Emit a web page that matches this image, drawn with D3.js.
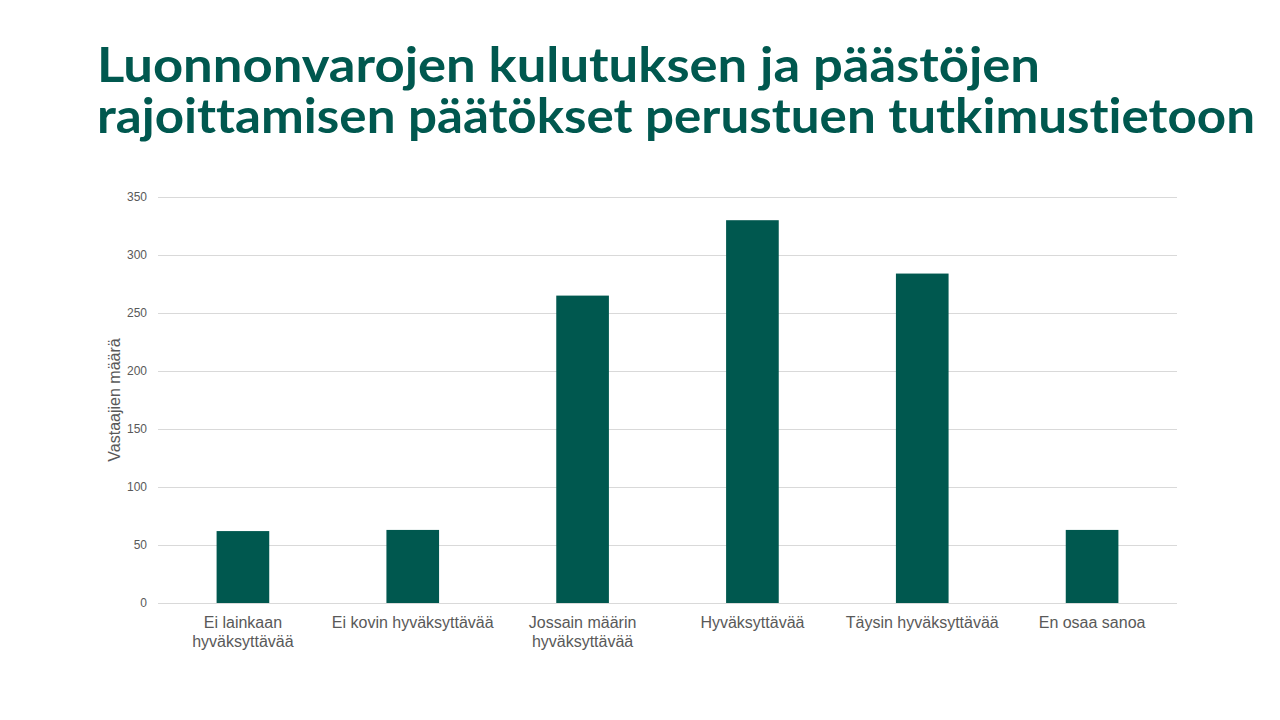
<!DOCTYPE html>
<html lang="fi">

<head>
    <meta charset="UTF-8">
    <title>Luonnonvarojen kulutuksen ja päästöjen rajoittaminen</title>
    <style>
        * {
            margin: 0;
            padding: 0;
        }

        html,
        body {
            overflow: hidden;
            background: #fff;
        }
    </style>
</head>

<body>
    <div id="chart"></div>
    <script src="https://cdn.jsdelivr.net/npm/d3@7"></script>
    <script>
        const titleLines = [
            'Luonnonvarojen kulutuksen ja päästöjen',
            'rajoittamisen päätökset perustuen tutkimustietoon'
        ]
        const categories = [
            ['Ei lainkaan', 'hyväksyttävää'],
            ['Ei kovin hyväksyttävää'],
            ['Jossain määrin', 'hyväksyttävää'],
            ['Hyväksyttävää'],
            ['Täysin hyväksyttävää'],
            ['En osaa sanoa']
        ]
        const values = [62, 63, 265, 330, 284, 63]
        const yTicks = [0, 50, 100, 150, 200, 250, 300, 350]
        const yLabel = 'Vastaajien määrä'

        function drawChart() {
            const width = 1280
            const height = 720
            const svg = d3.select('#chart')
                .append('svg')
                .attr('width', width)
                .attr('height', height)
                .style('background', '#fff')

            const green = '#00584F'
            const grey = '#595959'

            // otsikko
            const titleWidths = [943, 1158]
            svg.selectAll('text.title')
                .data(titleLines)
                .join('text')
                .attr('class', 'title')
                .attr('x', 97)
                .attr('y', (d, i) => 82 + i * 51)
                .attr('textLength', (d, i) => titleWidths[i])
                .attr('lengthAdjust', 'spacingAndGlyphs')
                .attr('fill', green)
                .style('font-family', 'Lato, "Open Sans", sans-serif')
                .style('font-weight', 'bold')
                .style('font-size', '47px')
                .style('font-variant-ligatures', 'none')
                .text(d => d)

            const margin = { left: 158, right: 1177, top: 197, bottom: 603 }

            const x = d3.scaleBand()
                .domain(d3.range(categories.length))
                .range([margin.left, margin.right])

            const y = d3.scaleLinear()
                .domain([0, 350])
                .range([margin.bottom, margin.top])

            // ruudukko
            svg.selectAll('line.grid')
                .data(yTicks)
                .join('line')
                .attr('class', 'grid')
                .attr('x1', margin.left)
                .attr('x2', margin.right)
                .attr('y1', d => Math.round(y(d)) + 0.5)
                .attr('y2', d => Math.round(y(d)) + 0.5)
                .attr('stroke', '#d9d9d9')
                .attr('stroke-width', 1)

            svg.selectAll('text.ytick')
                .data(yTicks)
                .join('text')
                .attr('class', 'ytick')
                .attr('x', 147)
                .attr('y', d => y(d) + 4)
                .attr('text-anchor', 'end')
                .attr('fill', grey)
                .style('font-family', '"Liberation Sans", Arial, sans-serif')
                .style('font-size', '12px')
                .text(d => d)

            // pylväät
            const barW = x.bandwidth() * 0.31
            svg.selectAll('rect.bar')
                .data(values)
                .join('rect')
                .attr('class', 'bar')
                .attr('x', (d, i) => x(i) + x.bandwidth() / 2 - barW / 2)
                .attr('y', d => y(d))
                .attr('width', barW)
                .attr('height', d => y(0) - y(d))
                .attr('fill', green)

            // luokat
            const catG = svg.selectAll('text.cat')
                .data(categories)
                .join('text')
                .attr('class', 'cat')
                .attr('text-anchor', 'middle')
                .attr('fill', grey)
                .style('font-family', '"Liberation Sans", Arial, sans-serif')
                .style('font-size', '16px')

            catG.selectAll('tspan')
                .data((d, i) => d.map(t => ({ t, i })))
                .join('tspan')
                .attr('x', d => x(d.i) + x.bandwidth() / 2)
                .attr('y', (d, j) => 628 + j * 19)
                .text(d => d.t)

            svg.append('text')
                .attr('transform', `translate(120, ${y(175)}) rotate(-90)`)
                .attr('text-anchor', 'middle')
                .attr('fill', grey)
                .style('font-family', '"Liberation Sans", Arial, sans-serif')
                .style('font-size', '16px')
                .text(yLabel)
        }

        drawChart()
    </script>
</body>

</html>
